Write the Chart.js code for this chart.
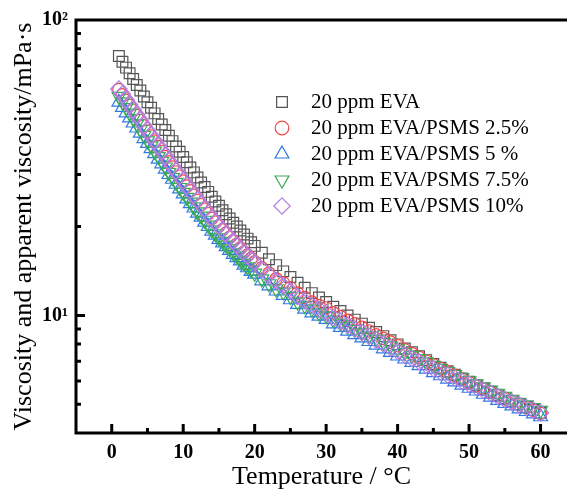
<!DOCTYPE html>
<html><head><meta charset="utf-8">
<script src="https://cdn.jsdelivr.net/npm/chart.js@4.4.1/dist/chart.umd.min.js"></script>
<style>html,body{margin:0;padding:0;background:#fff;}canvas{display:block}</style>
</head><body>
<canvas id="c" width="567" height="492"></canvas>
<script>
const temps = [1,1.5,2,2.5,3,3.5,4,4.5,5,5.5,6,6.5,7,7.5,8,8.5,9,9.5,10,10.5,11,11.5,12,12.5,13,13.5,14,14.5,15,15.5,16,16.5,17,17.5,18,18.5,19,19.5,20,
21,22,23,24,25,26,27,28,29,30,31,32,33,34,35,36,37,38,39,40,41,42,43,44,45,46,47,48,49,50,51,52,53,54,55,56,57,58,59,60];
const eva = [75.5,72.2,69.0,66.0,63.1,60.3,57.7,55.1,52.7,50.5,48.3,46.2,44.3,42.4,40.6,38.9,37.3,35.8,34.4,33.0,31.7,30.5,29.3,28.2,27.2,26.2,25.2,24.3,23.5,22.7,22.0,21.3,20.6,20.0,19.4,18.8,18.2,17.7,17.2,
16.3,15.5,14.8,14.1,13.5,12.9,12.4,11.9,11.5,11.1,10.7,10.35,10.0,9.68,9.38,9.08,8.79,8.51,8.24,7.98,7.73,7.50,7.28,7.06,6.85,6.65,6.47,6.30,6.12,5.96,5.81,5.66,5.52,5.38,5.25,5.13,5.01,4.90,4.79,4.68];
const psms25 = [58.1,55.8,53.5,51.4,49.5,47.6,45.7,43.8,42.1,40.5,38.9,37.3,35.9,34.5,33.1,31.8,30.6,29.6,28.5,27.4,26.4,25.5,24.5,23.7,22.9,22.1,21.3,20.7,20.1,19.5,19.0,18.4,17.9,17.4,16.9,16.4,16.0,15.6,15.2,
14.5,13.9,13.3,12.9,12.4,11.9,11.5,11.1,10.8,10.6,10.2,9.91,9.62,9.36,9.11,8.86,8.60,8.36,8.12,7.90,7.65,7.43,7.22,7.01,6.81,6.62,6.44,6.27,6.09,5.93,5.78,5.63,5.49,5.35,5.22,5.10,4.99,4.88,4.77,4.66];
const psms5 = [52.7,50.6,48.5,46.6,44.8,43.1,41.4,39.7,38.2,36.7,35.3,33.8,32.6,31.3,30.0,28.9,27.8,26.8,25.8,24.8,23.9,23.1,22.2,21.5,20.7,20.0,19.3,18.7,18.1,17.6,17.1,16.6,16.1,15.7,15.3,14.8,14.5,14.1,13.8,
13.1,12.6,12.1,11.7,11.3,10.9,10.5,10.2,9.94,9.70,9.37,9.11,8.85,8.61,8.39,8.16,7.94,7.71,7.50,7.29,7.12,6.94,6.76,6.58,6.40,6.25,6.09,5.96,5.81,5.67,5.55,5.41,5.29,5.16,5.04,4.94,4.83,4.73,4.64,4.54];
const psms75 = [55.1,52.8,50.5,48.4,46.4,44.5,42.6,40.7,39.0,37.5,36.0,34.5,33.2,31.8,30.5,29.3,28.2,27.1,26.1,25.1,24.2,23.3,22.4,21.7,21.0,20.2,19.5,18.9,18.3,17.8,17.3,16.8,16.3,15.9,15.4,15.0,14.6,14.3,13.9,
13.3,12.8,12.3,12.0,11.6,11.1,10.8,10.5,10.2,9.97,9.65,9.42,9.18,8.96,8.75,8.53,8.32,8.10,7.89,7.69,7.49,7.31,7.14,6.96,6.78,6.62,6.46,6.31,6.16,6.01,5.87,5.73,5.59,5.45,5.32,5.20,5.08,4.98,4.88,4.77];
const psms10 = [58.4,56.1,53.8,51.7,49.7,47.8,45.9,44.0,42.3,40.7,39.1,37.5,36.1,34.7,33.3,32.0,30.8,29.7,28.6,27.5,26.5,25.6,24.6,23.8,23.0,22.2,21.4,20.7,20.1,19.5,18.9,18.3,17.8,17.3,16.8,16.3,15.9,15.5,15.1,
14.3,13.7,13.1,12.6,12.1,11.6,11.2,10.8,10.5,10.2,9.83,9.55,9.26,9.00,8.75,8.50,8.25,8.01,7.77,7.55,7.34,7.15,6.97,6.78,6.60,6.44,6.28,6.14,5.99,5.85,5.72,5.58,5.45,5.32,5.20,5.09,4.98,4.88,4.78,4.68];

const seriesNames = ['20 ppm EVA','20 ppm EVA/PSMS 2.5%','20 ppm EVA/PSMS 5 %','20 ppm EVA/PSMS 7.5%','20 ppm EVA/PSMS 10%'];
const seriesValues = [eva, psms25, psms5, psms75, psms10];
const xTickValues = [0,10,20,30,40,50,60];
const xTickLabels = ['0','10','20','30','40','50','60'];
const xMinorValues = [5,15,25,35,45,55];
const yTickValues = [10,100];
const yTickLabels = ['10\u00B9','10\u00B2'];
const yMinorValues = [5,6,7,8,9,20,30,40,50,60,70,80,90];
const xTitle = 'Temperature / \u00B0C';
const yTitle = 'Viscosity and apparent viscosity/mPa\u00B7s';

const FAMILY = '"Liberation Serif","Times New Roman",Times,serif';
const styles = [
  {color:'#555555', pointStyle:'rect', radius:7.6, rotation:0, order:5},
  {color:'#F04848', pointStyle:'circle', radius:6.2, rotation:0, order:4},
  {color:'#2E78E8', pointStyle:'triangle', radius:8, rotation:0, order:3},
  {color:'#38AA58', pointStyle:'triangle', radius:8, rotation:180, order:2},
  {color:'#B47FE2', pointStyle:'rectRot', radius:8.2, rotation:0, order:1}
];

const datasets = seriesValues.map((vals, i) => ({
  label: seriesNames[i],
  data: temps.map((t, j) => ({x: t, y: vals[j]})),
  showLine: false,
  pointStyle: styles[i].pointStyle,
  pointRadius: styles[i].radius,
  pointRotation: styles[i].rotation,
  pointBorderWidth: 1.2,
  borderColor: styles[i].color,
  backgroundColor: 'rgba(0,0,0,0)',
  order: styles[i].order
}));

function drawMarker(ctx, st, x, y) {
  const r = st.radius;
  ctx.beginPath();
  if (st.pointStyle === 'rect') {
    const s = Math.SQRT1_2 * r;
    ctx.rect(x - s, y - s, 2 * s, 2 * s);
  } else if (st.pointStyle === 'circle') {
    ctx.arc(x, y, r + 0.6, 0, Math.PI * 2);
  } else if (st.pointStyle === 'triangle') {
    let a = st.rotation * Math.PI / 180;
    for (let k = 0; k < 3; k++) {
      const px = x + Math.sin(a) * r, py = y - Math.cos(a) * r;
      if (k === 0) ctx.moveTo(px, py); else ctx.lineTo(px, py);
      a += 2 * Math.PI / 3;
    }
    ctx.closePath();
  } else if (st.pointStyle === 'rectRot') {
    ctx.moveTo(x, y - r); ctx.lineTo(x + r, y); ctx.lineTo(x, y + r); ctx.lineTo(x - r, y); ctx.closePath();
  }
  ctx.stroke();
}

const framePlugin = {
  id: 'frame',
  afterDatasetsDraw(chart) {
    const {ctx, chartArea: a, scales: {x, y}} = chart;
    ctx.save();
    ctx.strokeStyle = '#000';
    ctx.lineWidth = 3;
    ctx.beginPath();
    ctx.moveTo(a.left - 1.5, a.top); ctx.lineTo(a.right + 3, a.top);
    ctx.moveTo(a.left, a.top - 1.5); ctx.lineTo(a.left, a.bottom + 1.5);
    ctx.moveTo(a.left - 1.5, a.bottom); ctx.lineTo(a.right + 3, a.bottom);
    xTickValues.forEach(v => { const p = x.getPixelForValue(v); ctx.moveTo(p, a.bottom); ctx.lineTo(p, a.bottom - 9); });
    xMinorValues.forEach(v => { const p = x.getPixelForValue(v); ctx.moveTo(p, a.bottom); ctx.lineTo(p, a.bottom - 5); });
    yTickValues.forEach(v => { const p = y.getPixelForValue(v); ctx.moveTo(a.left, p); ctx.lineTo(a.left + 9, p); });
    yMinorValues.forEach(v => { const p = y.getPixelForValue(v); ctx.moveTo(a.left, p); ctx.lineTo(a.left + 5, p); });
    ctx.stroke();
    ctx.restore();
  },
  afterDraw(chart) {
    const ctx = chart.ctx;
    ctx.save();
    ctx.font = '21px ' + FAMILY;
    ctx.textBaseline = 'middle';
    ctx.textAlign = 'left';
    seriesNames.forEach((n, i) => {
      const yy = 102 + i * 26;
      ctx.strokeStyle = styles[i].color;
      ctx.lineWidth = 1.2;
      drawMarker(ctx, styles[i], 282, yy);
      ctx.fillStyle = '#000';
      ctx.fillText(n, 311, yy);
    });
    ctx.restore();
  }
};

new Chart(document.getElementById('c'), {
  type: 'scatter',
  data: {datasets},
  plugins: [framePlugin],
  options: {
    responsive: false,
    animation: false,
    layout: {autoPadding: false, padding: {top: 20, right: 0, left: 0, bottom: 0}},
    plugins: {legend: {display: false}, tooltip: {enabled: false}},
    scales: {
      x: {
        type: 'linear', min: -5, max: 63.7,
        grid: {display: false, drawTicks: false},
        border: {display: false},
        afterBuildTicks: s => { s.ticks = xTickValues.map(v => ({value: v})); },
        afterFit: s => { s.height = 59; s.paddingLeft = 0; s.paddingRight = 0; },
        ticks: {
          padding: 8, color: '#000', autoSkip: false, maxRotation: 0,
          font: {family: FAMILY, size: 20, weight: 'bold'},
          callback: v => { const i = xTickValues.indexOf(v); return i >= 0 ? xTickLabels[i] : ''; }
        },
        title: {display: true, text: xTitle, color: '#000', font: {family: FAMILY, size: 26, lineHeight: 1}, padding: {top: 0, bottom: 2}}
      },
      y: {
        type: 'logarithmic', min: 4, max: 100,
        grid: {display: false, drawTicks: false},
        border: {display: false},
        afterBuildTicks: s => { s.ticks = yTickValues.map(v => ({value: v})); },
        afterFit: s => { s.width = 76; s.paddingTop = 0; s.paddingBottom = 0; },
        ticks: {
          padding: 8, color: '#000', autoSkip: false,
          font: {family: FAMILY, size: 20, weight: 'bold'},
          callback: v => { const i = yTickValues.indexOf(v); return i >= 0 ? yTickLabels[i] : ''; }
        },
        title: {display: true, text: yTitle, color: '#000', font: {family: FAMILY, size: 26, lineHeight: 1}, padding: {top: 11, bottom: 0}}
      }
    }
  }
});
</script>
</body></html>
